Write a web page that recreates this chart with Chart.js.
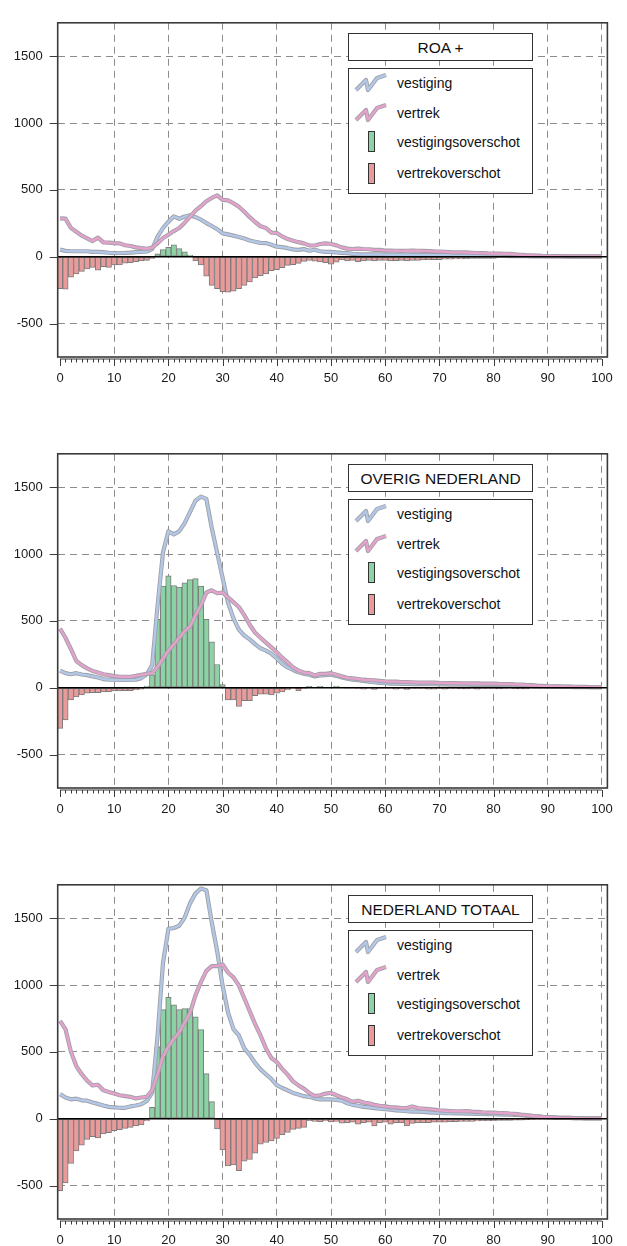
<!DOCTYPE html>
<html lang="nl">
<head>
<meta charset="UTF-8">
<title>Vestiging en vertrek naar leeftijd</title>
<script src="https://cdn.jsdelivr.net/npm/chart.js"></script>
<style>
    html, body { margin: 0; padding: 0; overflow: hidden; background: #fff; }
    body { width: 627px; height: 1246px; position: relative; font-family: "Liberation Sans", Arial, sans-serif; }
    .panel { position: absolute; left: 0; width: 627px; height: 400px; }
    .panel canvas { position: absolute; left: 0; top: 0; }
    .titlebox { position: absolute; left: 348px; top: 33px; width: 183px; height: 26px; border: 1px solid #333;
                background: #fff; font-size: 15.5px; line-height: 27px; text-align: center; color: #111; }
    .legendbox { position: absolute; left: 348px; top: 68px; width: 183px; height: 124px; border: 1px solid #333; background: #fff; }
    .legendbox span { position: absolute; left: 48px; font-size: 14px; line-height: 16px; color: #111; white-space: nowrap; }
    .legendbox svg { position: absolute; left: 0; top: 0; }
</style>
</head>
<body>

<div class="panel" style="top:0px"><canvas id="chartRoa" width="627" height="400"></canvas></div>
<div class="panel" style="top:431px"><canvas id="chartOverig" width="627" height="400"></canvas></div>
<div class="panel" style="top:862px"><canvas id="chartTotaal" width="627" height="400"></canvas></div>

<script>
// leeftijden 0..100 en vaste tick-waarden
const ages = Array.from({ length: 101 }, (_, i) => i);
const xTicks = [0, 10, 20, 30, 40, 50, 60, 70, 80, 90, 100];
const yTicks = [-500, 0, 500, 1000, 1500];
const panelTitles = ['ROA +', 'OVERIG NEDERLAND', 'NEDERLAND TOTAAL'];
const legendLabels = ['vestiging', 'vertrek', 'vestigingsoverschot', 'vertrekoverschot'];

// ROA +
const roaVestiging = [
    53, 44, 41, 41, 41, 41, 36, 36, 34, 30,
    27, 28, 29, 31, 34, 36, 39, 58, 150, 215,
    262, 302, 284, 301, 311, 296, 277, 252, 230, 206,
    175, 167, 158, 148, 136, 121, 112, 104, 102, 90,
    75, 72, 64, 55, 51, 57, 45, 52, 41, 36,
    36, 32, 29, 27, 22, 19, 17, 17, 17, 17,
    16, 15, 15, 15, 15, 14, 14, 13, 13, 12,
    12, 11, 11, 10, 10, 9, 9, 8, 8, 7,
    7, 6, 6, 5, 5, 4, 4, 3, 3, 3,
    2, 2, 2, 2, 1, 1, 1, 1, 1, 1, 1
];
const roaVertrek = [
    287, 285, 216, 187, 158, 138, 117, 143, 107, 106,
    102, 100, 86, 80, 70, 64, 60, 68, 100, 140,
    165, 192, 215, 255, 300, 345, 378, 415, 440, 459,
    425, 422, 400, 374, 337, 296, 260, 228, 215, 180,
    178, 152, 132, 120, 109, 100, 85, 84, 95, 100,
    95, 85, 70, 61, 58, 61, 58, 56, 51, 51,
    46, 46, 45, 44, 45, 46, 45, 44, 42, 40,
    39, 37, 34, 33, 33, 32, 30, 28, 27, 25,
    24, 23, 22, 22, 18, 15, 12, 10, 8, 6,
    5, 4, 4, 3, 3, 2, 2, 2, 2, 2, 2
];
const roaSaldo = [
    -238, -243, -153, -129, -109, -92, -80, -100, -75, -80,
    -61, -61, -49, -44, -36, -32, -27, -12, 22, 53,
    70, 90, 61, 36, 12, -32, -61, -146, -214, -238,
    -262, -265, -257, -238, -214, -189, -158, -141, -129, -104,
    -97, -82, -65, -60, -50, -35, -28, -34, -39, -44,
    -56, -41, -24, -32, -27, -36, -32, -27, -32, -27,
    -27, -32, -30, -27, -32, -27, -27, -24, -24, -22,
    -22, -19, -19, -17, -17, -15, -12, -12, -12, -12,
    -12, -7, -7, -7, -7, -5, -5, -5, -5, -3,
    -3, 0, 0, 0, 0, 0, 0, 0, 0, 0, 0
];

// OVERIG NEDERLAND
const overigVestiging = [
    128, 109, 101, 109, 99, 94, 85, 77, 65, 60,
    60, 58, 58, 58, 60, 72, 101, 169, 616, 1014,
    1171, 1147, 1171, 1232, 1316, 1400, 1430, 1413, 1195, 1009,
    823, 637, 519, 435, 391, 362, 326, 295, 278, 254,
    220, 180, 152, 133, 116, 104, 97, 85, 92, 94,
    97, 89, 77, 68, 60, 56, 51, 46, 41, 36,
    34, 31, 31, 29, 29, 27, 27, 27, 26, 26,
    25, 25, 24, 24, 23, 23, 22, 22, 22, 22,
    22, 21, 20, 19, 18, 17, 15, 14, 12, 11,
    10, 9, 8, 7, 6, 5, 5, 5, 5, 5, 5
];
const overigVertrek = [
    442, 374, 290, 200, 169, 145, 126, 114, 101, 94,
    87, 82, 82, 82, 89, 97, 104, 109, 157, 217,
    278, 326, 374, 423, 459, 543, 616, 712, 729, 707,
    712, 676, 640, 604, 543, 471, 411, 374, 338, 302,
    265, 225, 190, 152, 128, 114, 109, 92, 104, 104,
    109, 97, 85, 75, 70, 65, 60, 58, 56, 51,
    48, 46, 46, 43, 43, 41, 39, 39, 38, 38,
    36, 35, 34, 34, 33, 33, 32, 32, 31, 31,
    31, 29, 28, 27, 25, 24, 21, 19, 16, 14,
    12, 11, 10, 9, 8, 7, 6, 6, 5, 5, 5
];
const overigSaldo = [
    -304, -241, -92, -68, -53, -41, -36, -36, -31, -29,
    -24, -24, -22, -22, -17, -10, 12, 97, 512, 760,
    838, 765, 753, 785, 809, 816, 760, 512, 343, 174,
    24, -92, -92, -140, -97, -97, -60, -48, -48, -53,
    -41, -31, -17, -5, -24, -5, 10, 0, 10, 0,
    0, 12, 0, -3, -3, -5, -10, -5, -12, -5,
    -3, -5, -10, -5, -12, -5, -5, -5, -10, -10,
    -5, -10, -5, -5, -8, -8, -5, -10, -5, -5,
    -5, -8, -5, -3, -8, -8, -8, -3, -3, -2,
    0, 0, 0, 0, 0, 0, 0, 0, 0, 0, 0
];

// NEDERLAND TOTAAL
const totaalVestiging = [
    184, 159, 145, 150, 138, 135, 121, 111, 99, 89,
    85, 82, 82, 92, 99, 109, 133, 193, 623, 1166,
    1420, 1427, 1444, 1505, 1613, 1686, 1722, 1710, 1468, 1251,
    995, 795, 671, 623, 526, 478, 418, 369, 333, 297,
    252, 230, 213, 193, 181, 169, 164, 152, 145, 145,
    145, 140, 135, 116, 104, 97, 89, 85, 80, 75,
    72, 68, 63, 60, 56, 53, 53, 51, 48, 46,
    43, 42, 41, 40, 40, 39, 38, 37, 36, 35,
    34, 33, 31, 30, 29, 27, 24, 21, 17, 14,
    12, 10, 8, 7, 6, 5, 4, 3, 3, 2, 2
];
const totaalVertrek = [
    732, 671, 502, 394, 333, 285, 249, 254, 213, 200,
    188, 176, 169, 164, 152, 159, 164, 213, 333, 466,
    539, 599, 647, 720, 792, 925, 1022, 1106, 1142, 1142,
    1154, 1094, 1058, 997, 901, 804, 708, 623, 526, 454,
    425, 373, 330, 280, 249, 225, 193, 169, 176, 188,
    193, 176, 159, 145, 126, 135, 121, 116, 104, 97,
    92, 85, 85, 80, 80, 92, 80, 75, 72, 68,
    63, 60, 58, 56, 56, 58, 53, 51, 48, 46,
    46, 43, 43, 39, 36, 31, 27, 22, 17, 14,
    12, 10, 7, 6, 6, 5, 4, 3, 3, 2, 2
];
const totaalSaldo = [
    -538, -480, -334, -240, -197, -154, -135, -144, -113, -104,
    -89, -82, -72, -65, -53, -46, -17, 85, 539, 816,
    908, 853, 816, 824, 824, 763, 667, 338, 128, -77,
    -233, -353, -346, -389, -317, -305, -257, -190, -178, -165,
    -147, -120, -103, -80, -72, -65, -15, -20, -22, -17,
    -24, -20, -34, -29, -25, -41, -30, -25, -53, -30,
    -25, -41, -30, -30, -53, -35, -30, -30, -30, -25,
    -25, -25, -22, -22, -20, -20, -20, -17, -15, -15,
    -15, -12, -12, -12, -10, -10, -8, -6, -4, -2,
    0, 0, 0, 0, 0, 0, 0, 0, 0, 0, 0
];

const FONT = '"Liberation Sans", Arial, sans-serif';
const GRID = '#8c8c8c';
const OUTLINE = '#a0a0a6';
const BLUE = '#b2c8e8';
const PINK = '#e4a2cc';

// kader, nullijn en tick-streepjes
const axesPlugin = {
    id: 'axesPlugin',
    afterDatasetsDraw(chart) {
        const { ctx, chartArea: a, scales: { x, y } } = chart;
        ctx.save();
        const y0 = y.getPixelForValue(0);
        ctx.strokeStyle = '#000';
        ctx.lineWidth = 1.5;
        ctx.beginPath(); ctx.moveTo(a.left, y0); ctx.lineTo(a.right, y0); ctx.stroke();

        ctx.strokeStyle = '#3a3a3a';
        ctx.lineWidth = 1.6;
        ctx.strokeRect(a.left, a.top, a.right - a.left, a.bottom - a.top);

        ctx.lineWidth = 1;
        yTicks.forEach(v => {
            const p = Math.round(y.getPixelForValue(v)) + 0.5;
            ctx.beginPath(); ctx.moveTo(a.left - 8, p); ctx.lineTo(a.left, p); ctx.stroke();
        });

        const ya = a.bottom + 2;
        ctx.beginPath();
        ctx.moveTo(x.getPixelForValue(ages[0]), ya);
        ctx.lineTo(x.getPixelForValue(ages[ages.length - 1]), ya);
        ctx.stroke();
        ages.forEach(v => {
            const p = Math.round(x.getPixelForValue(v)) + 0.5;
            ctx.beginPath(); ctx.moveTo(p, ya); ctx.lineTo(p, ya + (v % 10 === 0 ? 7 : 3.5)); ctx.stroke();
        });
        ctx.restore();
    }
};

function points(values) {
    return values.map((v, i) => ({ x: ages[i], y: v }));
}

function makePanel(canvasId, vestiging, vertrek, saldo) {
    const pos = saldo.map((v, i) => ({ x: ages[i], y: v })).filter(p => p.y > 0);
    const neg = saldo.map((v, i) => ({ x: ages[i], y: v })).filter(p => p.y < 0);
    const lineBase = { type: 'line', pointRadius: 0, tension: 0, fill: false, borderJoinStyle: 'round' };
    const barBase = { type: 'bar', grouped: false, barPercentage: 1, categoryPercentage: 1,
                      borderColor: '#7c7c7c', borderWidth: 1, borderSkipped: false };

    const gridColor = c => (c.tick && c.tick.value === 0) ? 'rgba(0,0,0,0)' : GRID;

    new Chart(document.getElementById(canvasId), {
        type: 'bar',
        data: {
            datasets: [
                { ...lineBase, label: 'vertrek', data: points(vertrek), borderColor: PINK, borderWidth: 2.4, order: 1 },
                { ...lineBase, label: 'vertrek rand', data: points(vertrek), borderColor: OUTLINE, borderWidth: 4.2, order: 2 },
                { ...lineBase, label: 'vestiging', data: points(vestiging), borderColor: BLUE, borderWidth: 2.4, order: 3 },
                { ...lineBase, label: 'vestiging rand', data: points(vestiging), borderColor: OUTLINE, borderWidth: 4.2, order: 4 },
                { ...barBase, label: 'vestigingsoverschot', data: pos, backgroundColor: '#8dd2a4', order: 5 },
                { ...barBase, label: 'vertrekoverschot', data: neg, backgroundColor: '#e99a9a', order: 6 }
            ]
        },
        options: {
            responsive: false,
            animation: false,
            events: [],
            layout: { padding: { left: 0, top: 12.7, right: 18.7, bottom: 0 } },
            plugins: { legend: { display: false }, tooltip: { enabled: false } },
            scales: {
                x: {
                    type: 'linear', min: -0.43, max: 101, offset: false,
                    afterBuildTicks: s => { s.ticks = xTicks.map(v => ({ value: v })); },
                    afterFit: s => { s.height = 43; },
                    grid: { color: gridColor, lineWidth: 1, drawTicks: false, offset: false },
                    border: { display: false, dash: [7, 5] },
                    ticks: { padding: 14, color: '#1a1a1a', font: { family: FONT, size: 13 },
                             maxRotation: 0, autoSkip: false, callback: v => String(v) }
                },
                y: {
                    min: -750, max: 1750,
                    afterBuildTicks: s => { s.ticks = yTicks.map(v => ({ value: v })); },
                    afterFit: s => { s.width = 57.7; },
                    grid: { color: gridColor, lineWidth: 1, drawTicks: false },
                    border: { display: false, dash: [7, 5] },
                    ticks: { padding: 15, color: '#1a1a1a', font: { family: FONT, size: 13 },
                             callback: v => String(v) }
                }
            }
        },
        plugins: [axesPlugin]
    });
}

// legenda met titelvak per paneel
function makeLegend(panelIndex) {
    const panel = document.querySelectorAll('.panel')[panelIndex];
    const title = document.createElement('div');
    title.className = 'titlebox';
    title.textContent = panelTitles[panelIndex];
    panel.appendChild(title);

    const box = document.createElement('div');
    box.className = 'legendbox';
    box.innerHTML =
        '<svg width="183" height="124">' +
        '<polyline points="7,21 17,11 19,21 28,9 37,6" fill="none" stroke="' + OUTLINE + '" stroke-width="4.2" stroke-linejoin="round"/>' +
        '<polyline points="7,21 17,11 19,21 28,9 37,6" fill="none" stroke="' + BLUE + '" stroke-width="2.4" stroke-linejoin="round"/>' +
        '<polyline points="7,51 17,41 19,51 28,39 37,36" fill="none" stroke="' + OUTLINE + '" stroke-width="4.2" stroke-linejoin="round"/>' +
        '<polyline points="7,51 17,41 19,51 28,39 37,36" fill="none" stroke="' + PINK + '" stroke-width="2.4" stroke-linejoin="round"/>' +
        '<rect x="19.5" y="62.5" width="6" height="20" fill="#8dd2a4" stroke="#333" stroke-width="1"/>' +
        '<rect x="19.5" y="94.5" width="6" height="20" fill="#e99a9a" stroke="#333" stroke-width="1"/>' +
        '</svg>';
    const tops = [6, 36, 65, 96];
    legendLabels.forEach((txt, i) => {
        const s = document.createElement('span');
        s.style.top = tops[i] + 'px';
        s.textContent = txt;
        box.appendChild(s);
    });
    panel.appendChild(box);
}

makePanel('chartRoa', roaVestiging, roaVertrek, roaSaldo);
makePanel('chartOverig', overigVestiging, overigVertrek, overigSaldo);
makePanel('chartTotaal', totaalVestiging, totaalVertrek, totaalSaldo);
[0, 1, 2].forEach(makeLegend);
</script>
</body>
</html>
